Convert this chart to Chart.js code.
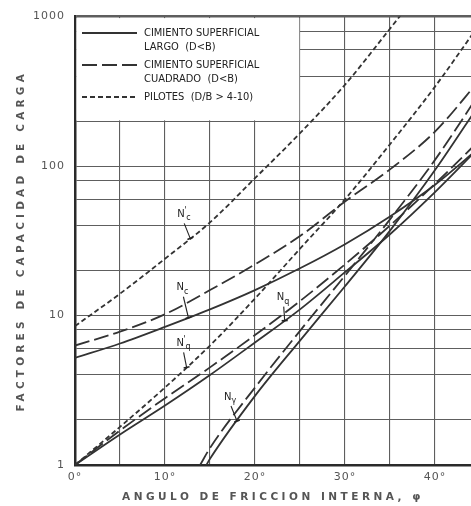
<!DOCTYPE html>
<html><head><meta charset="utf-8">
<script src="https://cdn.jsdelivr.net/npm/chart.js@4.4.1/dist/chart.umd.min.js"></script>
<style>html,body{margin:0;padding:0;background:#fff;overflow:hidden}</style>
</head><body>
<canvas id="c" width="471" height="506"></canvas>
<script>
// ---- data ----
const phi = [0,5,10,15,20,25,30,35,40,45];
const phiNcPile = [0,5,10,15,20,25,30,35,40];
const ncPile   = [8.5,14,24,42,83,166,350,830,2000];      // N'c pilotes
const nqPile   = [1,1.8,3.3,6.3,13,28,60,140,340,900];     // N'q pilotes
const ncSquare = [6.3,7.8,10.2,14.8,22,34,58,95,170,380];  // Nc cuadrado
const ncStrip  = [5.2,6.5,8.4,11,14.8,20.7,30,46,75,134];  // Nc largo
const nqSquare = [1,1.7,2.8,4.5,7.4,12.5,22,40,76,150];    // Nq cuadrado
const nqStrip  = [1,1.6,2.5,4.0,6.6,11,19.5,35,67,135];    // Nq largo
const phiNgStrip  = [14.6,15,20,25,30,35,40,45];
const ngStrip     = [1,1.1,2.9,6.8,15.7,37,94,263];        // Nγ largo
const phiNgSquare = [13.9,15,20,25,30,35,40,45];
const ngSquare    = [1,1.3,3.3,7.9,18.5,44,110,310];       // Nγ cuadrado

const yTicks = [1,2,4,6,8,10,20,40,60,80,100,200,400,600,800,1000];
const yLabels = ['1','10','100','1000'];
const xTicks = [0,5,10,15,20,25,30,35,40];
const xLabels = ['0°','10°','20°','30°','40°'];

const legendRows = [
  {dash:[], lines:['CIMIENTO SUPERFICIAL','LARGO  (D<B)']},
  {dash:[15,5], lines:['CIMIENTO SUPERFICIAL','CUADRADO  (D<B)']},
  {dash:[5,3], lines:['PILOTES  (D/B > 4-10)']}
];

const SOLID = [], LONG = [15,5], SHORT = [5,3];
const INK = '#333';

function pts(xs, ys){ return ys.map((v,i)=>({x:xs[i], y:v})); }

const series = [
  {name:"N'c", xs:phiNcPile, ys:ncPile, dash:SHORT},
  {name:"N'q", xs:phi, ys:nqPile, dash:SHORT},
  {name:"Nc cuadrado", xs:phi, ys:ncSquare, dash:LONG},
  {name:"Nc", xs:phi, ys:ncStrip, dash:SOLID},
  {name:"Nq cuadrado", xs:phi, ys:nqSquare, dash:LONG},
  {name:"Nq", xs:phi, ys:nqStrip, dash:SOLID},
  {name:"Nγ", xs:phiNgStrip, ys:ngStrip, dash:SOLID},
  {name:"Nγ cuadrado", xs:phiNgSquare, ys:ngSquare, dash:LONG}
];

// curve labels: anchored on a series at a given phi, offset for the text
const notes = [
  {main:'N', prime:true,  sub:'c', s:0, at:12.8, dx:-7, dy:-23},
  {main:'N', prime:false, sub:'c', s:3, at:12.6, dx:-6, dy:-29},
  {main:'N', prime:true,  sub:'q', s:1, at:12.4, dx:-4, dy:-23},
  {main:'N', prime:false, sub:'q', s:5, at:23.3, dx:-2, dy:-22},
  {main:'N', prime:false, sub:'γ', s:6, at:18.0, dx:-7, dy:-23}
];

function valueAt(xs, ys, p){
  for (let i=0;i<xs.length-1;i++){
    if (p>=xs[i] && p<=xs[i+1]){
      const t=(p-xs[i])/(xs[i+1]-xs[i]);
      return Math.pow(10, Math.log10(ys[i])*(1-t)+Math.log10(ys[i+1])*t);
    }
  }
  return ys[ys.length-1];
}

function spacedTitle(spacing){
  return s => {
    if (s._spaced) return;
    const orig = s.drawTitle.bind(s);
    s.drawTitle = function(){
      const c = this.ctx, prev = c.letterSpacing;
      c.letterSpacing = spacing; orig(); c.letterSpacing = prev;
    };
    s._spaced = true;
  };
}

const overlay = {
  id:'overlay',
  beforeDraw(chart){ chart.ctx.letterSpacing = '1px'; },
  beforeDatasetsDraw(chart){
    const ctx = chart.ctx, xs = chart.scales.x, ys = chart.scales.y;
    const l = xs.getPixelForValue(0), r = xs.getPixelForValue(25);
    const t = ys.getPixelForValue(1000), b = ys.getPixelForValue(200);
    ctx.save();
    ctx.letterSpacing = '0px';
    ctx.fillStyle = '#fff';
    ctx.fillRect(l+1.5, t+1.5, r-l-2.2, b-t-2.2);
    const rowsY = [[33,47],[65,79],[97]];
    legendRows.forEach((row,i)=>{
      const y0 = rowsY[i][0];
      ctx.strokeStyle = INK; ctx.lineWidth = 1.8; ctx.setLineDash(row.dash);
      ctx.beginPath(); ctx.moveTo(l+7, y0); ctx.lineTo(l+62, y0); ctx.stroke();
      ctx.setLineDash([]);
      ctx.fillStyle = '#222';
      ctx.font = "11px 'DejaVu Sans Condensed', 'Liberation Sans Narrow', 'DejaVu Sans'";
      ctx.textBaseline = 'middle'; ctx.textAlign = 'left';
      row.lines.forEach((txt,j)=> ctx.fillText(txt, l+69, rowsY[i][j]));
    });
    ctx.restore();
  },
  afterDatasetsDraw(chart){
    const ctx = chart.ctx, xs = chart.scales.x, ys = chart.scales.y;
    ctx.save();
    ctx.letterSpacing = '0px';
    notes.forEach(n=>{
      const s = series[n.s];
      const px = xs.getPixelForValue(n.at);
      const py = ys.getPixelForValue(valueAt(s.xs, s.ys, n.at));
      const cx = px + n.dx, cy = py + n.dy;
      ctx.fillStyle = '#222'; ctx.textBaseline = 'middle'; ctx.textAlign = 'left';
      ctx.font = "10px 'DejaVu Sans'";
      const w = ctx.measureText(n.main).width;
      const x0 = cx - 6;
      ctx.fillText(n.main, x0, cy-1);
      let x1 = x0 + w;
      if (n.prime){ ctx.font = "8px 'DejaVu Sans'"; ctx.fillText("'", x1-0.5, cy-4); x1 += 1.5; }
      ctx.font = "8px 'DejaVu Sans'";
      ctx.fillText(n.sub, x1, cy+3);
      const sx = cx+1, sy = cy+8;
      ctx.strokeStyle = '#222'; ctx.lineWidth = 1.1;
      ctx.beginPath(); ctx.moveTo(sx, sy); ctx.lineTo(px, py); ctx.stroke();
      const ang = Math.atan2(py-sy, px-sx) + Math.PI/2;
      ctx.beginPath();
      ctx.moveTo(px+3*Math.cos(ang), py+3*Math.sin(ang));
      ctx.lineTo(px-3*Math.cos(ang), py-3*Math.sin(ang));
      ctx.lineWidth = 1.6; ctx.stroke();
    });
    ctx.restore();
  },
  afterDraw(chart){ chart.ctx.letterSpacing = '0px'; }
};

new Chart(document.getElementById('c'), {
  type:'line',
  data:{ datasets: series.map(s=>({
    label:s.name, data:pts(s.xs, s.ys), borderDash:s.dash,
    borderColor:INK, borderWidth:1.8, pointRadius:0, fill:false,
    cubicInterpolationMode:'monotone'
  }))},
  options:{
    responsive:false, animation:false,
    layout:{padding:{top:13,left:0,right:0,bottom:0}},
    plugins:{legend:{display:false}, tooltip:{enabled:false}},
    scales:{
      x:{
        type:'linear', min:0, max:44,
        afterBuildTicks:s=>{ s.ticks = xTicks.map(v=>({value:v})); },
        afterFit:s=>{ s.height = 41; },
        afterUpdate: spacedTitle('3.5px'),
        grid:{color:'#5e5e5e', lineWidth:1.1, drawTicks:false},
        border:{color:'#2a2a2a', width:2.5},
        ticks:{autoSkip:false, maxRotation:0, padding:6, color:'#555',
          font:{family:'DejaVu Sans', size:11},
          callback:v=> xLabels.includes(v+'°') ? v+'°' : ''},
        title:{display:true, text:'ANGULO DE FRICCION INTERNA, φ', color:'#555',
          font:{family:'DejaVu Sans', size:10.5, weight:'bold'}, padding:{top:0,bottom:2}}
      },
      y:{
        type:'logarithmic', min:1, max:1000,
        afterBuildTicks:s=>{ s.ticks = yTicks.map(v=>({value:v})); },
        afterFit:s=>{ s.width = 75; },
        afterUpdate: spacedTitle('4.2px'),
        grid:{color:'#5e5e5e', lineWidth:c=> (c.tick && c.tick.value===1000) ? 2.4 : 1.1, drawTicks:false},
        border:{color:'#2a2a2a', width:2.5},
        ticks:{autoSkip:false, padding:10, color:'#555',
          font:{family:'DejaVu Sans', size:11},
          callback:v=> yLabels.includes(String(v)) ? String(v) : ''},
        title:{display:true, text:'FACTORES DE CAPACIDAD DE CARGA', color:'#555',
          font:{family:'DejaVu Sans', size:10.5, weight:'bold'}, padding:{top:15,bottom:0}}
      }
    }
  },
  plugins:[overlay]
});
</script>
</body></html>
